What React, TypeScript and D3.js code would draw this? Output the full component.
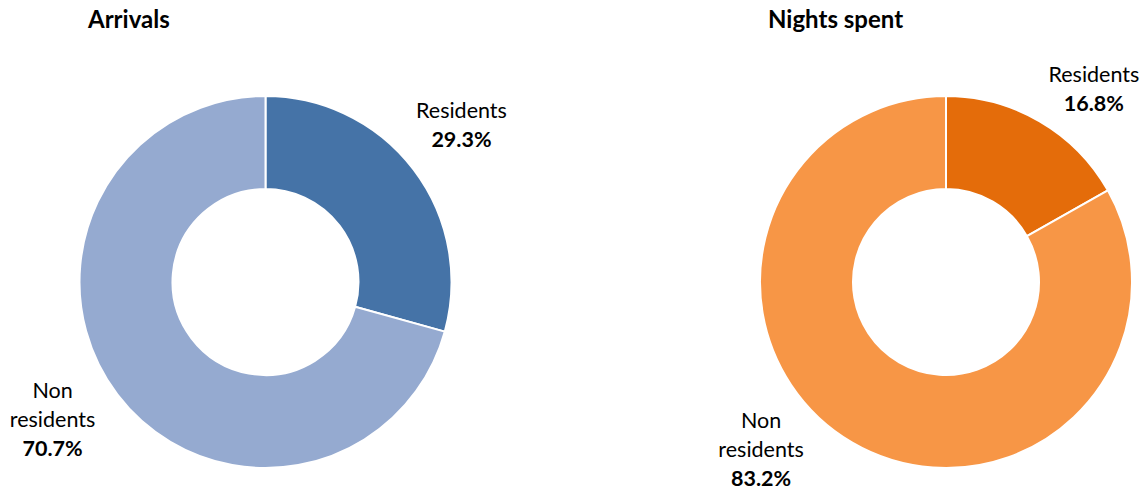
import React, { useRef, useEffect } from 'react';
import * as d3 from 'd3';

const categories = ['Residents', 'Non residents'];
const arrivals = [29.3, 70.7];
const nightsSpent = [16.8, 83.2];
const titles = ['Arrivals', 'Nights spent'];
const labelLines = [['Residents'], ['Non', 'residents']];

const colors = [
  ['#4573a7', '#95aad0'],
  ['#e46c0a', '#f79646'],
];

// label nudges (Excel-style placement) per chart / slice
const nudges = [
  [[-3, -5], [-14, -13]],
  [[22, 23], [-59, -48]],
];

const W = 1145;
const H = 492;

const App: React.FC = () => {
  const ref = useRef<SVGSVGElement>(null);

  useEffect(() => {
    const svg = d3.select(ref.current);
    svg.selectAll('*').remove();
    svg.attr('width', W).attr('height', H);

    const font = 'Lato, "Open Sans", sans-serif';
    const centers = [[265.5, 282], [946, 282]];
    const titleX = [88, 768];
    const outerR = 186;
    const innerR = 93;
    const labelR = 250;
    const lineH = 29;

    [arrivals, nightsSpent].forEach((values, ci) => {
      const [cx, cy] = centers[ci];

      svg.append('text')
        .attr('x', titleX[ci])
        .attr('y', 28)
        .attr('font-family', font)
        .attr('font-weight', 'bold')
        .attr('font-size', 24)
        .attr('fill', '#000')
        .text(titles[ci]);

      const pie = d3.pie<number>().sort(null).value(d => d);
      const arcs = pie(values);
      const arc = d3.arc<d3.PieArcDatum<number>>().innerRadius(innerR).outerRadius(outerR);

      const g = svg.append('g').attr('transform', `translate(${cx},${cy})`);
      g.selectAll('path')
        .data(arcs)
        .join('path')
        .attr('d', arc)
        .attr('fill', (d, i) => colors[ci][i])
        .attr('stroke', '#fff')
        .attr('stroke-width', 2);

      arcs.forEach((a, i) => {
        const mid = (a.startAngle + a.endAngle) / 2;
        const lx = cx + Math.sin(mid) * labelR + nudges[ci][i][0];
        const ly = cy - Math.cos(mid) * labelR + nudges[ci][i][1];
        const lines = [...labelLines[i], `${values[i].toFixed(1)}%`];
        const first = ly - ((lines.length - 1) * lineH) / 2 + 7;
        const t = svg.append('text')
          .attr('font-family', font)
          .attr('font-size', 21.5)
          .attr('text-anchor', 'middle')
          .attr('fill', '#000');
        lines.forEach((ln, li) => {
          t.append('tspan')
            .attr('x', lx)
            .attr('y', first + li * lineH)
            .attr('font-weight', li === lines.length - 1 ? 'bold' : 'normal')
            .text(ln);
        });
      });
    });
  }, []);

  return (
    <svg
      ref={ref}
      style={{ position: 'absolute', left: 0, top: 0, background: '#fff' }}
    ></svg>
  );
};

export default App;
